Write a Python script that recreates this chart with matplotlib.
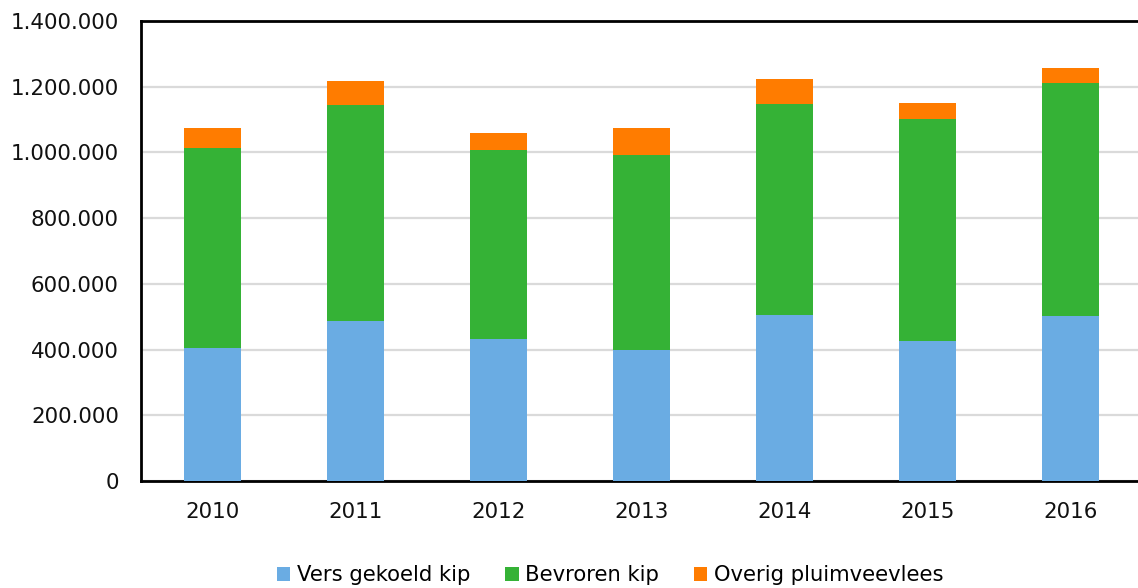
import numpy as np
import matplotlib.pyplot as plt

jaren = ['2010', '2011', '2012', '2013', '2014', '2015', '2016']
vers_gekoeld = [404000, 486000, 431000, 398000, 504000, 425000, 501000]
bevroren = [610000, 659000, 577000, 595000, 644000, 677000, 711000]
overig = [61000, 73000, 52000, 82000, 76000, 49000, 45000]

kleuren = ['#6aace3', '#35b236', '#ff7c00']
namen = ['Vers gekoeld kip', 'Bevroren kip', 'Overig pluimveevlees']

plt.rcParams['font.family'] = ['DejaVu Sans']
fig = plt.figure(figsize=(11.38, 5.88), dpi=100)
ax = fig.add_axes([0.1239, 0.182, 0.8796, 0.7823])

x = np.arange(len(jaren))
onder = np.zeros(len(jaren))
for waarden, kleur, naam in zip([vers_gekoeld, bevroren, overig], kleuren, namen):
    ax.bar(x, waarden, width=0.4, bottom=onder, color=kleur, label=naam, zorder=3)
    onder += np.array(waarden)

ax.set_xlim(-0.5, 6.5)
ax.set_ylim(0, 1400000)
ax.set_yticks(np.arange(0, 1400001, 200000))
ax.set_yticklabels([f'{v:,}'.replace(',', '.') for v in range(0, 1400001, 200000)])
ax.set_xticks(x)
ax.set_xticklabels(jaren)
ax.tick_params(axis='both', length=0, labelsize=15.4, colors='#111111')
ax.tick_params(axis='x', pad=15)
ax.tick_params(axis='y', pad=16)
ax.yaxis.grid(True, color='#dadada', linewidth=1.6, zorder=0)
for kant in ['left', 'bottom', 'top']:
    ax.spines[kant].set_linewidth(2)
    ax.spines[kant].set_color('black')
ax.spines['right'].set_visible(False)

fig.legend(loc='lower center', bbox_to_anchor=(0.536, -0.028), ncol=3, frameon=False,
           fontsize=15.2, handlelength=0.65, handleheight=0.65, handletextpad=0.3,
           columnspacing=1.65)

fig.savefig('out.png', dpi=100)
